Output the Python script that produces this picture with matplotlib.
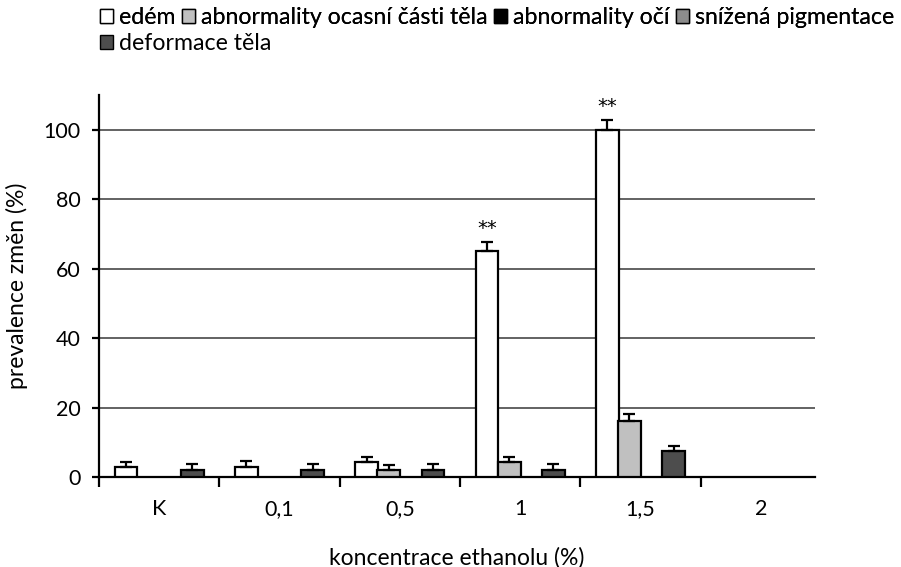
import matplotlib
matplotlib.use("Agg")
import matplotlib.pyplot as plt
from matplotlib.patches import Patch
from matplotlib.ticker import FixedLocator
import numpy as np

plt.rcParams["font.family"] = ["Lato", "DejaVu Sans"]

categories = ["K", "0,1", "0,5", "1", "1,5", "2"]
series_names = [
    "edém",
    "abnormality ocasní části těla",
    "abnormality očí",
    "snížená pigmentace",
    "deformace těla",
]
series_colors = ["#ffffff", "#c0c0c0", "#000000", "#8c8c8c", "#4d4d4d"]

edem = [2.8, 3.0, 4.2, 65.0, 100.0, 0.0]
edem_err = [1.5, 1.6, 1.6, 2.8, 2.9, 0.0]
ocasni = [0.0, 0.0, 2.0, 4.2, 16.2, 0.0]
ocasni_err = [0.0, 0.0, 1.6, 1.5, 2.0, 0.0]
oci = [0.0, 0.0, 0.0, 0.0, 0.0, 0.0]
oci_err = [0.0, 0.0, 0.0, 0.0, 0.0, 0.0]
pigmentace = [0.0, 0.0, 0.0, 0.0, 0.0, 0.0]
pigmentace_err = [0.0, 0.0, 0.0, 0.0, 0.0, 0.0]
deformace = [2.1, 2.1, 2.1, 2.1, 7.6, 0.0]
deformace_err = [1.6, 1.6, 1.6, 1.6, 1.3, 0.0]

significance = ["", "", "", "**", "**", ""]

values = [edem, ocasni, oci, pigmentace, deformace]
errors = [edem_err, ocasni_err, oci_err, pigmentace_err, deformace_err]
# slot of each series inside a category group (zero series share slot)
slots = [-1.5, -0.5, 0.5, 0.5, 1.5]

fig = plt.figure(figsize=(9.01, 5.67), dpi=100)
ax = fig.add_axes([0.1099, 0.1587, 0.7946, 0.6738])

x = np.arange(len(categories))
bar_w = 0.19
step = 0.184

ax.yaxis.grid(True, color="#484848", linewidth=1.2)
ax.set_axisbelow(True)

for vals, errs, col, slot in zip(values, errors, series_colors, slots):
    vals = np.array(vals)
    errs = np.array(errs)
    pos = x + slot * step
    mask = vals > 0
    if not mask.any():
        continue
    ax.bar(pos[mask], vals[mask], width=bar_w, color=col,
           edgecolor="black", linewidth=1.6, zorder=3)
    emask = mask & (errs > 0)
    ax.errorbar(pos[emask], vals[emask],
                yerr=[np.zeros(emask.sum()), errs[emask]],
                fmt="none", ecolor="black", elinewidth=1.6,
                capsize=4.5, capthick=1.6, zorder=4)

for i, s in enumerate(significance):
    if s:
        top = edem[i] + edem_err[i]
        ax.text(x[i] + slots[0] * step, top + 1.0, s, ha="center",
                va="bottom", fontsize=14, family=["DejaVu Sans"])

ax.set_xlim(-0.5, 5.45)
ax.set_ylim(0, 110)
ax.yaxis.set_major_locator(FixedLocator([0, 20, 40, 60, 80, 100]))
ax.set_xticks(x)
ax.set_xticklabels(categories)
ax.xaxis.set_minor_locator(FixedLocator(np.arange(-0.5, 5.0, 1.0)))
ax.tick_params(axis="x", which="major", length=0, pad=16, labelsize=15.5)
ax.tick_params(axis="x", which="minor", length=7, width=1.6, direction="out")
ax.tick_params(axis="y", length=5, width=1.6, pad=8.5, labelsize=15.5)

for side in ["top", "right"]:
    ax.spines[side].set_visible(False)
for side in ["left", "bottom"]:
    ax.spines[side].set_linewidth(1.6)

ax.set_ylabel("prevalence změn (%)", fontsize=16.5)
ax.set_xlabel("koncentrace ethanolu (%)", fontsize=16.5)
ax.yaxis.set_label_coords(-0.099, 0.5)
ax.xaxis.set_label_coords(0.5, -0.183)

handles = [Patch(facecolor=c, edgecolor="black", linewidth=1.0)
           for c in series_colors]
leg_kw = dict(loc="upper left", frameon=False, fontsize=16.7, borderpad=0,
              borderaxespad=0, handlelength=0.55, handleheight=0.55,
              handletextpad=0.25, columnspacing=0.3)
leg1 = fig.legend(handles[:4], series_names[:4], ncol=4,
                  bbox_to_anchor=(0.111, 0.987), **leg_kw)
fig.add_artist(leg1)
fig.legend(handles[4:], series_names[4:], ncol=1,
           bbox_to_anchor=(0.111, 0.941), **leg_kw)

fig.savefig("out.png", dpi=100)
